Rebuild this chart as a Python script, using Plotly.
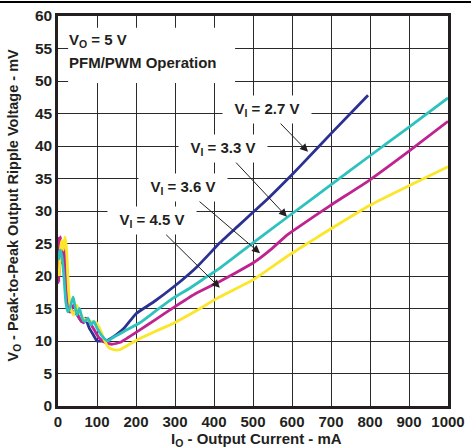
import plotly.graph_objects as go

# ---- data ----
x_27 = [2, 5, 10, 15, 20, 25, 30, 40, 50, 60, 70, 80, 90, 100, 110, 120, 130, 150, 170, 200, 245, 300, 356, 415, 460, 500, 540, 587, 621, 700, 795]
y_27 = [21, 23.5, 24, 22, 18, 15, 14.5, 14.5, 14, 13, 13.5, 12, 11, 10, 10, 9.9, 10.2, 11, 12, 14.2, 16, 18.5, 21.4, 25.1, 27.6, 29.8, 32.0, 34.8, 36.9, 41.9, 47.8]

x_33 = [2, 5, 10, 15, 20, 25, 30, 39, 48, 55, 62, 68, 77, 85, 92, 100, 110, 120, 128, 140, 170, 210, 250, 295, 340, 382, 415, 500, 587, 697, 800, 900, 1000]
y_33 = [22.5, 24, 23, 20, 16, 14.5, 15, 16.8, 14, 15, 13.5, 13, 13.5, 12.5, 13, 12, 11, 10.3, 10, 10.5, 11.5, 12.8, 14.6, 16.6, 18.2, 19.9, 21.2, 25.1, 29.0, 33.9, 38.5, 42.9, 47.4]

x_36 = [1, 2, 4, 6, 10, 15, 20, 25, 30, 40, 50, 58, 65, 75, 85, 95, 105, 120, 138, 160, 210, 250, 295, 350, 410, 450, 500, 550, 587, 623, 697, 800, 900, 1000]
y_36 = [26, 19, 22, 26, 22, 25, 19, 15.5, 14.5, 15.5, 14, 13.2, 12.8, 13.5, 12.5, 11.5, 10.5, 9.8, 9.5, 9.8, 11.7, 13.3, 15.1, 17.2, 19.0, 20.3, 22, 24.3, 26.3, 27.8, 30.8, 34.8, 39.2, 43.8]

x_45 = [3, 6, 10, 14, 18, 22, 27, 32, 40, 48, 55, 65, 75, 85, 99, 110, 120, 130, 140, 150, 160, 175, 210, 250, 295, 350, 415, 500, 587, 650, 706, 800, 900, 1000]
y_45 = [20, 24, 25.5, 24, 26, 24, 18, 15, 14, 15.5, 14.5, 13.5, 13.2, 13, 12.8, 11.5, 10, 9, 8.7, 8.6, 8.7, 9.2, 10.4, 11.5, 12.7, 14.5, 16.8, 19.4, 23.0, 25.4, 27.5, 30.9, 33.9, 36.8]

series_names = ["V<sub>I</sub> = 2.7 V", "V<sub>I</sub> = 3.3 V", "V<sub>I</sub> = 3.6 V", "V<sub>I</sub> = 4.5 V"]
colors = ["#2B3192", "#2EC2BE", "#BE2390", "#FBE62A"]

# label positions (text centre) and arrow tips, in data units
label_x = [536, 423, 321, 241]
label_y = [45.6, 39.6, 33.6, 28.5]
tip_x = [641, 587, 518, 415]
tip_y = [39.1, 29.1, 23.5, 18.2]

x_ticks = list(range(0, 1001, 100))
y_ticks = list(range(0, 61, 5))

x_title = "<b>I<sub>O</sub> - Output Current - mA</b>"
y_title = "<b>V<sub>O</sub> - Peak-to-Peak Output Ripple Voltage - mV</b>"

FONT = "Liberation Sans, Arial, sans-serif"
INK = "#231F20"

fig = go.Figure()
traces = [(x_27, y_27, 0), (x_36, y_36, 2), (x_45, y_45, 3), (x_33, y_33, 1)]
for xs, ys, i in traces:
    fig.add_trace(go.Scatter(x=xs, y=ys, mode="lines", name=series_names[i],
                             line=dict(color=colors[i], width=2.8, shape="spline", smoothing=0.4),
                             showlegend=False, hoverinfo="skip"))

# white box behind the condition text
fig.add_shape(type="rect", xref="x", yref="y", x0=26, x1=454, y0=49.7, y1=58.2,
              fillcolor="white", line=dict(width=0), layer="above")
fig.add_annotation(x=24, y=56.3, xref="x", yref="y", xanchor="left", yanchor="middle",
                   text="<b>V<sub>O</sub> = 5 V</b>", showarrow=False,
                   font=dict(family=FONT, size=15, color=INK))
fig.add_annotation(x=24, y=52.9, xref="x", yref="y", xanchor="left", yanchor="middle",
                   text="<b>PFM/PWM Operation</b>", showarrow=False,
                   font=dict(family=FONT, size=15, color=INK))

for i in range(4):
    fig.add_annotation(x=tip_x[i], y=tip_y[i], ax=label_x[i], ay=label_y[i],
                       xref="x", yref="y", axref="x", ayref="y",
                       text="<b>" + series_names[i] + "</b>", showarrow=True,
                       arrowhead=2, arrowsize=1.6, arrowwidth=1, arrowcolor=INK,
                       standoff=0, bgcolor="white", borderpad=4, width=80,
                       font=dict(family=FONT, size=15, color=INK))

# axis titles
fig.add_annotation(x=0.508, y=-0.087, xref="paper", yref="paper", xanchor="center", yanchor="middle",
                   text=x_title, showarrow=False, font=dict(family=FONT, size=15, color=INK))
fig.add_annotation(x=-0.112, y=0.515, xref="paper", yref="paper", xanchor="center", yanchor="middle",
                   text=y_title, showarrow=False, textangle=-90,
                   font=dict(family=FONT, size=14.5, color=INK))

# top rule of the page
fig.add_shape(type="line", xref="paper", yref="paper", x0=-0.149, x1=1.06, y0=1.036, y1=1.036,
              line=dict(color="black", width=2))

fig.update_xaxes(range=[0, 1000], tickvals=x_ticks, ticktext=[f"<b>{v}</b>" for v in x_ticks],
                 showgrid=True, gridcolor="#2a2a2a", gridwidth=1, zeroline=False,
                 showline=True, mirror=True, linecolor=INK, linewidth=2.5,
                 ticks="", automargin=False, tickfont=dict(family=FONT, size=15, color=INK))
fig.update_yaxes(range=[0, 60], tickvals=y_ticks, ticktext=[f"<b>{v}</b>" for v in y_ticks],
                 showgrid=True, gridcolor="#2a2a2a", gridwidth=1, zeroline=False,
                 showline=True, mirror=True, linecolor=INK, linewidth=2.5,
                 ticks="", automargin=False, tickfont=dict(family=FONT, size=15.5, color=INK))

fig.update_layout(width=471, height=448, margin=dict(l=58, r=23, t=16, b=42),
                  paper_bgcolor="white", plot_bgcolor="white", showlegend=False)

fig.write_html("out.html")
